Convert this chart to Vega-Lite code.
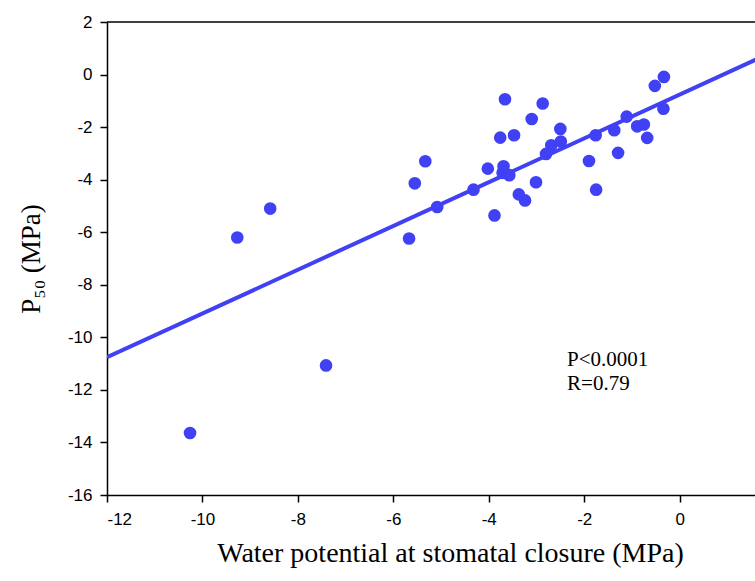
{
  "$schema": "https://vega.github.io/schema/vega-lite/v6.json",
  "autosize": {"type": "none"},
  "padding": {"left": 107, "top": 22, "right": 0, "bottom": 86},
  "width": 649,
  "height": 473,
  "background": "white",
  "config": {
    "view": {"stroke": null},
    "axis": {
      "domainColor": "black",
      "domainWidth": 1.5,
      "tickColor": "black",
      "tickWidth": 1.5,
      "tickSize": 7,
      "grid": false,
      "labelFont": "Liberation Sans",
      "labelFontSize": 17,
      "labelColor": "black",
      "labelExpr": "toString(datum.value)",
      "titleFont": "Liberation Serif",
      "titleFontWeight": "normal",
      "titleColor": "black"
    }
  },
  "datasets": {
    "points": [
      {"psi": -10.26, "p50": -13.64},
      {"psi": -9.27, "p50": -6.20},
      {"psi": -8.58, "p50": -5.10},
      {"psi": -7.41, "p50": -11.07},
      {"psi": -5.67, "p50": -6.24},
      {"psi": -5.55, "p50": -4.14},
      {"psi": -5.33, "p50": -3.30},
      {"psi": -5.08, "p50": -5.04},
      {"psi": -4.32, "p50": -4.38},
      {"psi": -4.02, "p50": -3.58},
      {"psi": -3.88, "p50": -5.36},
      {"psi": -3.76, "p50": -2.40},
      {"psi": -3.69, "p50": -3.49},
      {"psi": -3.66, "p50": -0.94},
      {"psi": -3.71, "p50": -3.74},
      {"psi": -3.57, "p50": -3.83},
      {"psi": -3.47, "p50": -2.31},
      {"psi": -3.37, "p50": -4.56},
      {"psi": -3.24, "p50": -4.79},
      {"psi": -3.10, "p50": -1.69},
      {"psi": -3.01, "p50": -4.10},
      {"psi": -2.87, "p50": -1.10},
      {"psi": -2.80, "p50": -3.02},
      {"psi": -2.69, "p50": -2.69},
      {"psi": -2.49, "p50": -2.55},
      {"psi": -2.50, "p50": -2.07},
      {"psi": -1.90, "p50": -3.29},
      {"psi": -1.76, "p50": -2.31},
      {"psi": -1.75, "p50": -4.38},
      {"psi": -1.37, "p50": -2.12},
      {"psi": -1.29, "p50": -2.98},
      {"psi": -1.11, "p50": -1.60},
      {"psi": -0.89, "p50": -1.97},
      {"psi": -0.75, "p50": -1.90},
      {"psi": -0.68, "p50": -2.41},
      {"psi": -0.52, "p50": -0.43},
      {"psi": -0.33, "p50": -0.09},
      {"psi": -0.34, "p50": -1.30}
    ],
    "fit": [
      {"psi": -12, "p50": -10.76},
      {"psi": 1.6, "p50": 0.57}
    ],
    "frame": [
      {"top": 2}
    ],
    "notes": [
      {"psi": -2.36, "p50": -11.10, "label": "P<0.0001"},
      {"psi": -2.36, "p50": -12.02, "label": "R=0.79"}
    ]
  },
  "layer": [
    {
      "data": {"name": "fit"},
      "mark": {"type": "line", "color": "#4040f5", "strokeWidth": 4, "clip": true},
      "encoding": {
        "x": {
          "field": "psi",
          "type": "quantitative",
          "scale": {"domain": [-12, 1.6], "nice": false, "zero": false},
          "axis": {
            "values": [-12, -10, -8, -6, -4, -2, 0],
            "labelPadding": 9,
            "title": "Water potential at stomatal closure (MPa)",
            "titleFontSize": 28,
            "titlePadding": 12,
            "titleX": 343
          }
        },
        "y": {
          "field": "p50",
          "type": "quantitative",
          "scale": {"domain": [-16, 2], "nice": false, "zero": false},
          "axis": {
            "values": [-16, -14, -12, -10, -8, -6, -4, -2, 0, 2],
            "labelPadding": 8,
            "title": "P₅₀ (MPa)",
            "titleFontSize": 27,
            "titlePadding": 22
          }
        }
      }
    },
    {
      "data": {"name": "frame"},
      "mark": {"type": "rule", "color": "black", "strokeWidth": 1.5},
      "encoding": {
        "y": {"field": "top", "type": "quantitative"}
      }
    },
    {
      "data": {"name": "points"},
      "mark": {"type": "circle", "color": "#4040f5", "opacity": 1, "size": 160},
      "encoding": {
        "x": {"field": "psi", "type": "quantitative"},
        "y": {"field": "p50", "type": "quantitative"}
      }
    },
    {
      "data": {"name": "notes"},
      "mark": {"type": "text", "align": "left", "baseline": "alphabetic", "font": "Liberation Serif", "fontSize": 21, "color": "black"},
      "encoding": {
        "x": {"field": "psi", "type": "quantitative"},
        "y": {"field": "p50", "type": "quantitative"},
        "text": {"field": "label"}
      }
    }
  ]
}
